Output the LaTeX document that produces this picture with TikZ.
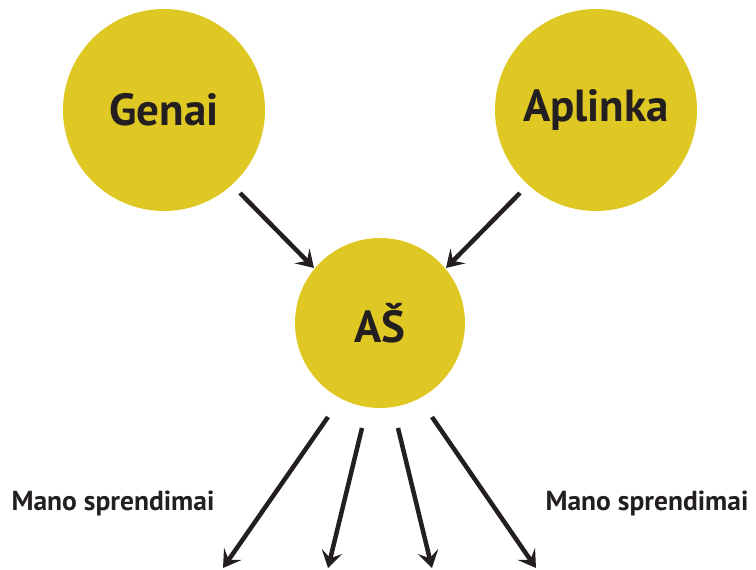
\documentclass[tikz,border=0pt]{standalone}
\usepackage{fontspec}
\setmainfont{PT Sans}
\usetikzlibrary{arrows.meta}
\definecolor{gold}{HTML}{DFC823}
\definecolor{ink}{HTML}{231F20}
\begin{document}
\begin{tikzpicture}[x=1pt,y=-1pt,
  bubble/.style={circle,fill=gold,inner sep=0pt,text=ink,font=\bfseries\fontsize{45}{54}\selectfont},
  arr/.style={draw=ink,line width=4.5pt,-{Stealth[length=17pt,width=21pt,inset=7pt]}},
  lbl/.style={text=ink,font=\bfseries\fontsize{27.5}{32}\selectfont}]
\useasboundingbox (0,0) rectangle (756,570);
\node[bubble,minimum size=202pt] (genai) at (164,110) {Genai};
\node[bubble,minimum size=202pt] (aplinka) at (596,110) {Aplinka};
\node[bubble,minimum size=170pt] (as) at (380,323) {AŠ};
\coordinate (g1) at (240,193);
\coordinate (g2) at (314,268);
\coordinate (a1) at (520,193);
\coordinate (a2) at (446,268);
\coordinate (s1) at (328,417);
\coordinate (e1) at (223,568);
\coordinate (s2) at (362,428);
\coordinate (e2) at (328,568);
\coordinate (s3) at (398,428);
\coordinate (e3) at (432,568);
\coordinate (s4) at (432,417);
\coordinate (e4) at (536,568);
\draw[arr] (g1) -- (g2);
\draw[arr] (a1) -- (a2);
\draw[arr] (s1) -- (e1);
\draw[arr] (s2) -- (e2);
\draw[arr] (s3) -- (e3);
\draw[arr] (s4) -- (e4);
\node[lbl] (l1) at (113,503) {Mano sprendimai};
\node[lbl] (l2) at (647,503) {Mano sprendimai};
\end{tikzpicture}
\end{document}
